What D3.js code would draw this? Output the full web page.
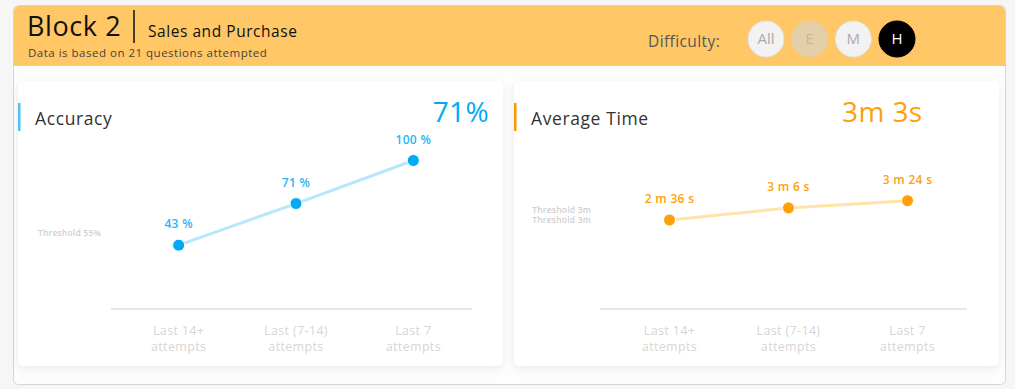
<!DOCTYPE html>
<html>
<head>
<meta charset="utf-8">
<script src="https://cdn.jsdelivr.net/npm/d3@7"></script>
<style>
  body { margin: 0; background: #f6f6f6; font-family: "Open Sans", "Noto Sans", sans-serif; }
  svg { display: block; }
</style>
</head>
<body>
<svg id="chart" width="1015" height="389"></svg>
<script>
'use strict'

// chart data
const categories = ['Last 14+|attempts', 'Last (7-14)|attempts', 'Last 7|attempts'];
const accuracyValues = [43, 71, 100];
const accuracyLabels = ['43 %', '71 %', '100 %'];
const timeValues = [156, 186, 204]; // seconds
const timeLabels = ['2 m 36 s', '3 m 6 s', '3 m 24 s'];
const difficultyLevels = ['All', 'E', 'M', 'H'];

const svg = d3.select('#chart');

// outer card
svg.append('rect')
	.attr('x', 13.5).attr('y', 5.5)
	.attr('width', 992).attr('height', 379)
	.attr('rx', 5)
	.attr('fill', '#fdfdfd')
	.attr('stroke', '#d6d6d6');

// header band
svg.append('path')
	.attr('d', 'M14,11 a5,5 0 0 1 5,-5 H1000 a5,5 0 0 1 5,5 V66 H14 Z')
	.attr('fill', '#ffc766');

svg.append('text')
	.attr('x', 27).attr('y', 36)
	.style('font-size', '27px').style('letter-spacing', '0.6px').attr('fill', '#111')
	.text('Block 2');
svg.append('line')
	.attr('x1', 134).attr('x2', 134).attr('y1', 10).attr('y2', 43)
	.attr('stroke', '#111').attr('stroke-width', 1.5);
svg.append('text')
	.attr('x', 148).attr('y', 37)
	.style('font-size', '15.5px').style('letter-spacing', '0.55px').attr('fill', '#111')
	.text('Sales and Purchase');
svg.append('text')
	.attr('x', 28).attr('y', 57)
	.style('font-size', '11.5px').style('letter-spacing', '0.5px').attr('fill', '#444')
	.text('Data is based on 21 questions attempted');

svg.append('text')
	.attr('x', 648).attr('y', 47)
	.style('font-size', '15.5px').style('letter-spacing', '0.4px').attr('fill', '#555')
	.text('Difficulty:');

// difficulty buttons
const btnX = d3.scalePoint().domain(difficultyLevels).range([766, 897]);
const btnStyle = {
	All: { fill: '#f2f2f2', stroke: '#e0e0e0', text: '#aaa' },
	E: { fill: '#e4cfa9', stroke: '#e4cfa9', text: '#cdb58e' },
	M: { fill: '#f2f2f2', stroke: '#e0e0e0', text: '#aaa' },
	H: { fill: '#000', stroke: '#000', text: '#fff' }
};
const btn = svg.selectAll('g.btn').data(difficultyLevels).enter()
	.append('g').attr('class', 'btn')
	.attr('transform', d => `translate(${btnX(d)},39)`);
btn.append('circle').attr('r', 18)
	.attr('fill', d => btnStyle[d].fill)
	.attr('stroke', d => btnStyle[d].stroke);
btn.append('text')
	.attr('text-anchor', 'middle').attr('dy', '0.36em')
	.style('font-size', '15px')
	.attr('fill', d => btnStyle[d].text)
	.text(d => d);

// shadow for panels
const defs = svg.append('defs');
const shadow = defs.append('filter').attr('id', 'shadow')
	.attr('x', '-5%').attr('y', '-5%').attr('width', '110%').attr('height', '115%');
shadow.append('feDropShadow')
	.attr('dx', 0).attr('dy', 3).attr('stdDeviation', 4)
	.attr('flood-color', '#000').attr('flood-opacity', 0.07);

/**
 * draw one line-chart panel
 */
function drawPanel(opt) {
	let g = svg.append('g');

	g.append('rect')
		.attr('x', opt.left).attr('y', 81)
		.attr('width', opt.width).attr('height', 285)
		.attr('rx', 6)
		.attr('fill', '#fff')
		.attr('filter', 'url(#shadow)');

	g.append('rect')
		.attr('x', opt.left).attr('y', 103)
		.attr('width', 2.5).attr('height', 28)
		.attr('fill', opt.accent);

	g.append('text')
		.attr('x', opt.left + 17).attr('y', 125)
		.style('font-size', '17.5px').style('letter-spacing', '0.6px').attr('fill', '#333')
		.text(opt.title);

	g.append('text')
		.attr('x', opt.bigX).attr('y', 122)
		.attr('text-anchor', opt.bigAnchor)
		.style('font-size', '28px').style('letter-spacing', '0.4px').attr('fill', opt.color)
		.text(opt.bigText);

	let x = d3.scaleBand().domain(categories).range(opt.xRange);
	let y = d3.scaleLinear().domain(opt.yDomain).range(opt.yRange);
	let cx = d => x(d) + x.bandwidth() / 2;

	// x axis
	let axis = g.append('g')
		.attr('transform', 'translate(0,309)')
		.call(d3.axisBottom(x).tickSize(0).tickFormat(''));
	axis.select('.domain')
		.attr('d', `M${opt.axisStart},0H${opt.xRange[1]}`)
		.attr('stroke', '#d0d0d0').attr('stroke-width', 1.2);
	axis.selectAll('.tick text').remove();
	axis.selectAll('.tick').each(function(d) {
		let t = d3.select(this).append('text')
			.attr('text-anchor', 'middle')
			.style('font-size', '12.5px').style('letter-spacing', '0.35px')
			.style('font-family', '"Open Sans", sans-serif')
			.attr('fill', '#d6d6d6');
		d.split('|').forEach((s, i) => {
			t.append('tspan').attr('x', 0).attr('y', 26 + i * 16).text(s);
		});
	});

	// threshold label
	let th = g.append('text')
		.attr('text-anchor', 'end')
		.style('font-size', '8.5px').style('font-weight', 600).style('letter-spacing', '0.2px')
		.attr('fill', '#cfcfcf');
	opt.thresholdText.forEach((s, i) => {
		th.append('tspan').attr('x', opt.thresholdX)
			.attr('y', y(opt.threshold) + opt.thresholdDy + i * 10).text(s);
	});

	let pts = categories.map((c, i) => ({ c: c, v: opt.values[i], label: opt.labels[i] }));

	g.append('path')
		.datum(pts)
		.attr('fill', 'none')
		.attr('stroke', opt.lineColor)
		.attr('stroke-width', 3)
		.attr('d', d3.line().x(d => cx(d.c)).y(d => y(d.v)));

	g.selectAll('circle.pt').data(pts).enter()
		.append('circle').attr('class', 'pt')
		.attr('cx', d => cx(d.c)).attr('cy', d => y(d.v))
		.attr('r', 6).attr('fill', opt.color)
		.attr('stroke', '#fff').attr('stroke-width', 1);

	g.selectAll('text.lbl').data(pts).enter()
		.append('text').attr('class', 'lbl')
		.attr('x', d => cx(d.c)).attr('y', d => y(d.v) - 17)
		.attr('text-anchor', 'middle')
		.style('font-size', '12px').style('font-weight', 600).style('letter-spacing', '0.3px')
		.attr('fill', opt.labelColor)
		.text(d => d.label);
}

drawPanel({
	left: 18, width: 485,
	accent: '#4fc3f7', title: 'Accuracy',
	color: '#03a9f4', labelColor: '#29b6f6', lineColor: '#b8e6fb',
	bigText: '71%', bigX: 489, bigAnchor: 'end',
	xRange: [120, 472], axisStart: 111,
	yDomain: [0, 100], yRange: [309, 160.5],
	values: accuracyValues, labels: accuracyLabels,
	threshold: 55, thresholdText: ['Threshold 55%'], thresholdX: 101, thresholdDy: 9
});

drawPanel({
	left: 514, width: 485,
	accent: '#ff9800', title: 'Average Time',
	color: '#ff9f0a', labelColor: '#ff9f0a', lineColor: '#ffe3a8',
	bigText: '3m 3s', bigX: 842, bigAnchor: 'start',
	xRange: [610, 967], axisStart: 600,
	yDomain: [0, 240], yRange: [282.7, 186.2],
	values: timeValues, labels: timeLabels,
	threshold: 180, thresholdText: ['Threshold 3m', 'Threshold 3m'], thresholdX: 591, thresholdDy: 2.5
});
</script>
</body>
</html>
